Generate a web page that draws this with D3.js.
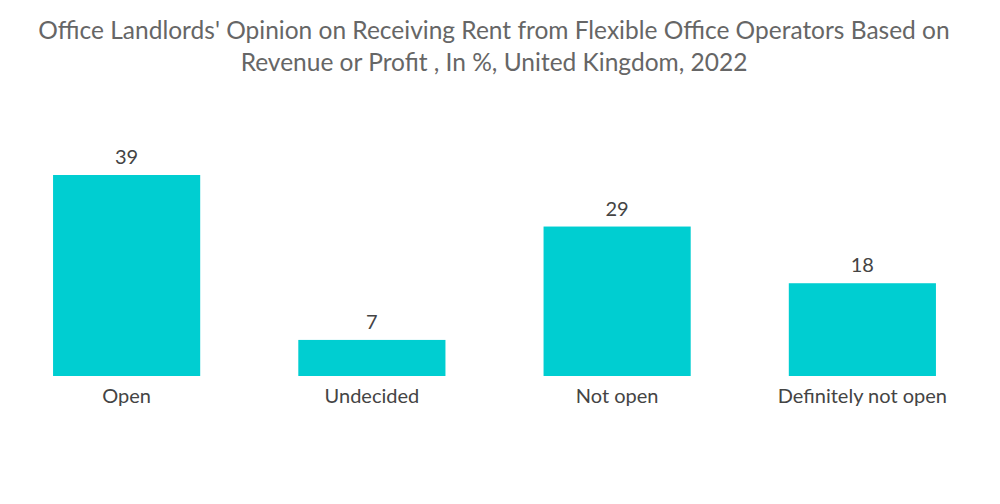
<!DOCTYPE html>
<html>
<head>
<meta charset="utf-8">
<script src="https://cdn.jsdelivr.net/npm/d3@7"></script>
<style>
  body { margin: 0; background: #fff; }
  svg text { font-family: "Lato", "Open Sans", sans-serif; }
</style>
</head>
<body>
<div id="chart"></div>
<script>
var categories = ['Open', 'Undecided', 'Not open', 'Definitely not open'];
var values = [39, 7, 29, 18];
var titleLines = [
  "Office Landlords' Opinion on Receiving Rent from Flexible Office Operators Based on",
  "Revenue or Profit , In %, United Kingdom, 2022"
];

var width = 1000, height = 504;
var baseline = 376;

var svg = d3.select('#chart').append('svg')
    .attr('width', width)
    .attr('height', height);

// title
svg.append('g').selectAll('text')
    .data(titleLines)
    .enter().append('text')
      .attr('x', 494)
      .attr('y', function(d, i) { return 39 + i * 32; })
      .attr('text-anchor', 'middle')
      .style('font-size', '24.5px')
      .style('fill', '#666')
      .text(function(d) { return d; });

var x = d3.scaleBand()
    .domain(categories)
    .range([4, 985])
    .paddingInner(0.4)
    .paddingOuter(0.2);

var y = d3.scaleLinear()
    .domain([0, 39])
    .range([baseline, 175]);

var bar = svg.selectAll('.bar')
    .data(categories.map(function(c, i) { return {cat: c, val: values[i]}; }))
  .enter().append('g');

bar.append('rect')
    .attr('class', 'bar')
    .attr('x', function(d) { return x(d.cat); })
    .attr('width', x.bandwidth())
    .attr('y', function(d) { return y(d.val); })
    .attr('height', function(d) { return baseline - y(d.val); })
    .style('fill', '#00CED1');

bar.append('text')
    .attr('x', function(d) { return x(d.cat) + x.bandwidth() / 2; })
    .attr('y', function(d) { return y(d.val) - 11; })
    .attr('text-anchor', 'middle')
    .style('font-size', '20px')
    .style('fill', '#444')
    .text(function(d) { return d.val; });

// category axis, no line or ticks
var xAxis = d3.axisBottom(x).tickSize(0).tickPadding(13);
var gx = svg.append('g')
    .attr('transform', 'translate(0,' + baseline + ')')
    .call(xAxis);
gx.select('.domain').remove();
gx.selectAll('text')
    .style('font-size', '20px')
    .style('fill', '#444')
    .style('font-family', '"Lato", "Open Sans", sans-serif');
</script>
</body>
</html>
